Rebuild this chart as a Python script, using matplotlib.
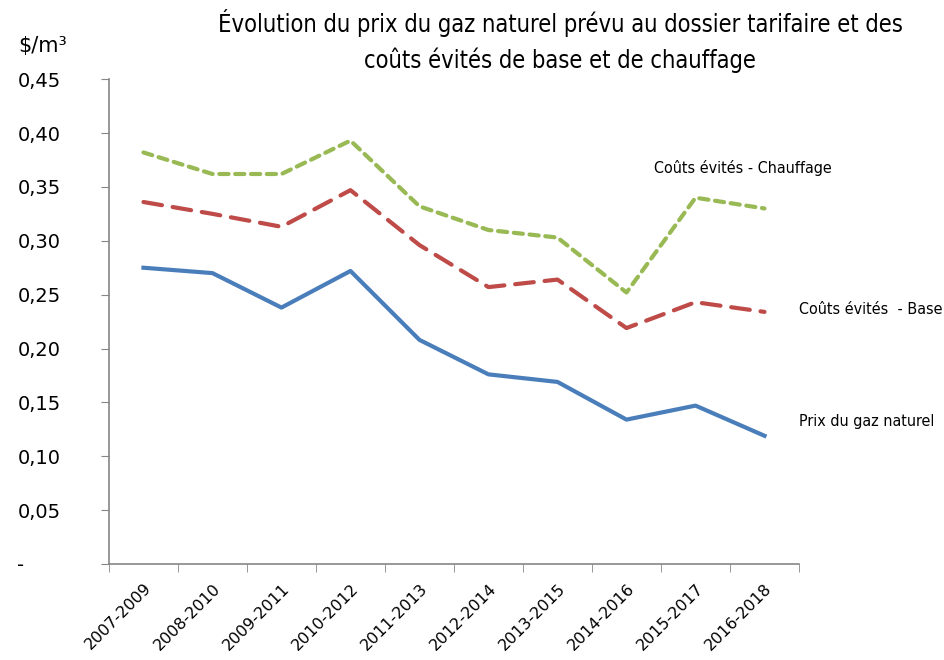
import matplotlib
matplotlib.use("Agg")
import matplotlib.pyplot as plt
from matplotlib.ticker import FixedLocator

plt.rcParams["font.family"] = ["DejaVu Sans"]

periods = ["2007-2009", "2008-2010", "2009-2011", "2010-2012", "2011-2013",
           "2012-2014", "2013-2015", "2014-2016", "2015-2017", "2016-2018"]
prix_gaz = [0.275, 0.270, 0.238, 0.272, 0.208, 0.176, 0.169, 0.134, 0.147, 0.119]
couts_base = [0.336, 0.325, 0.313, 0.347, 0.296, 0.257, 0.264, 0.219, 0.243, 0.234]
couts_chauffage = [0.382, 0.362, 0.362, 0.393, 0.332, 0.310, 0.303, 0.252, 0.340, 0.330]
yticks = [0, 0.05, 0.10, 0.15, 0.20, 0.25, 0.30, 0.35, 0.40, 0.45]

fig = plt.figure(figsize=(9.45, 6.6), dpi=100)
ax = fig.add_axes([0.1153, 0.1455, 0.7302, 0.7345])

x = list(range(len(periods)))
ax.plot(x, couts_chauffage, color="#98B954", lw=3, dashes=(2.2, 1.6),
        dash_capstyle="round")
ax.plot(x, couts_base, color="#BE4B48", lw=3, dashes=(4.5, 2.6),
        dash_capstyle="round")
ax.plot(x, prix_gaz, color="#4A7EBB", lw=3)

# labels next to the lines
ax.text(7.4, 0.368, "Coûts évités - Chauffage", fontsize=11.5, va="center",
        fontstretch="condensed")
ax.text(9.5, 0.236, "Coûts évités  - Base", fontsize=11.5, va="center",
        fontstretch="condensed", clip_on=False)
ax.text(9.5, 0.132, "Prix du gaz naturel", fontsize=11.5, va="center",
        fontstretch="condensed", clip_on=False)

ax.set_xlim(-0.5, 9.5)
ax.set_ylim(0, 0.45)
ax.set_yticks(yticks)
ax.set_yticklabels(["-" if v == 0 else f"{v:.2f}".replace(".", ",") for v in yticks],
                   fontsize=14)
ax.set_xticks(x)
ax.set_xticklabels(periods, rotation=45, ha="right", rotation_mode="anchor",
                   fontsize=11.5)
ax.xaxis.set_minor_locator(FixedLocator([i - 0.5 for i in range(len(periods) + 1)]))
ax.tick_params(axis="x", which="major", length=0, pad=12)
ax.tick_params(axis="x", which="minor", length=6, color="#868686", direction="out")
ax.tick_params(axis="y", length=6, color="#868686", direction="out", pad=60)
for lab in ax.get_yticklabels():
    lab.set_horizontalalignment("left")

for s in ["top", "right"]:
    ax.spines[s].set_visible(False)
for s in ["left", "bottom"]:
    ax.spines[s].set_color("#868686")
    ax.spines[s].set_linewidth(1.2)

fig.text(0.5926, 0.987, "Évolution du prix du gaz naturel prévu au dossier tarifaire et des\n"
         "coûts évités de base et de chauffage", ha="center", va="top",
         fontsize=17, linespacing=1.55, fontstretch="condensed")
fig.text(0.045, 0.93, "$/m³", fontsize=15, ha="center", va="center")

fig.savefig("out.png", dpi=100)
